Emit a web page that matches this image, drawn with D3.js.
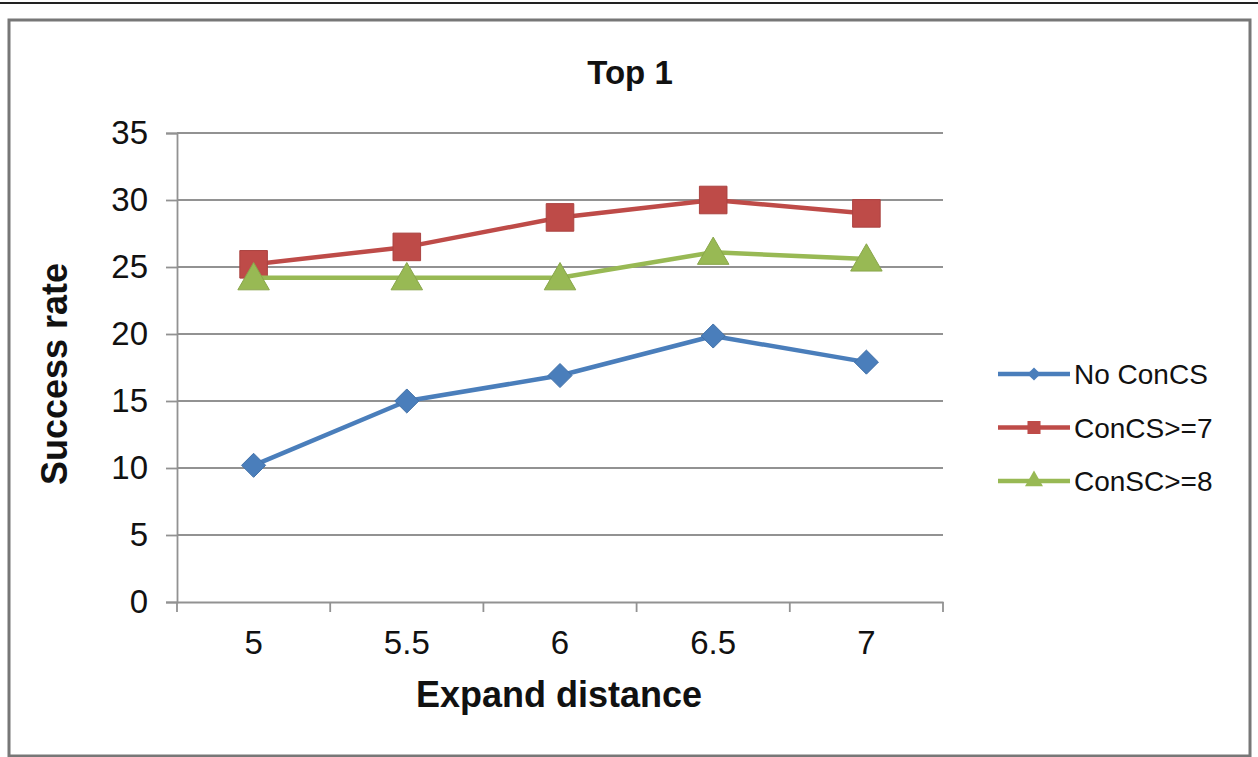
<!DOCTYPE html>
<head>
  <script src="https://d3js.org/d3.v7.min.js"></script>
  <style>
    body { margin: 0; background: #fff; }
    text { font-family: Arial, "Liberation Sans", sans-serif; fill: #111; }
  </style>
</head>
<body>
  <svg width="1258" height="757"></svg>
  <script>
    const categories = ["5", "5.5", "6", "6.5", "7"];
    const noConCS = [10.2, 15, 16.9, 19.85, 17.9];
    const conCS7 = [25.2, 26.5, 28.7, 30, 29];
    const conSC8 = [24.2, 24.2, 24.2, 26.1, 25.6];
    const yTicks = [0, 5, 10, 15, 20, 25, 30, 35];

    const series = [
      { name: "No ConCS", values: noConCS, color: "#4A7EBB", shape: "diamond" },
      { name: "ConCS>=7", values: conCS7, color: "#BE4B48", shape: "square" },
      { name: "ConSC>=8", values: conSC8, color: "#98B954", shape: "triangle" }
    ];

    const svg = d3.select("svg");

    // page line and frame
    svg.append("line").attr("x1", 0).attr("x2", 1258).attr("y1", 3).attr("y2", 3)
      .attr("stroke", "#222").attr("stroke-width", 2);
    svg.append("rect").attr("x", 9).attr("y", 20).attr("width", 1241).attr("height", 736)
      .attr("fill", "none").attr("stroke", "#777").attr("stroke-width", 3);

    const plotLeft = 177, plotRight = 943, plotTop = 133, plotBottom = 602;

    const x = d3.scaleBand().domain(categories).range([plotLeft, plotRight]);
    const y = d3.scaleLinear().domain([0, 35]).range([plotBottom, plotTop]);

    // gridlines
    svg.append("g").selectAll("line").data(yTicks.filter(d => d > 0)).enter().append("line")
      .attr("x1", plotLeft).attr("x2", plotRight)
      .attr("y1", d => y(d)).attr("y2", d => y(d))
      .attr("stroke", "#929292").attr("stroke-width", 1.8);

    // y axis
    const yAxis = svg.append("g").attr("transform", `translate(${plotLeft},0)`)
      .call(d3.axisLeft(y).tickValues(yTicks).tickSize(11).tickPadding(18));
    yAxis.select(".domain").attr("stroke", "#929292").attr("stroke-width", 1.8);
    yAxis.selectAll(".tick line").attr("stroke", "#929292").attr("stroke-width", 1.8);
    yAxis.selectAll(".tick text").style("font-size", "33px").attr("fill", "#111");

    // x axis
    const xAxis = svg.append("g").attr("transform", `translate(0,${plotBottom})`)
      .call(d3.axisBottom(x).tickSize(0).tickPadding(29));
    xAxis.select(".domain").attr("stroke", "#929292").attr("stroke-width", 1.8);
    xAxis.selectAll(".tick text").style("font-size", "33px").attr("fill", "#111");
    svg.append("g").selectAll("line")
      .data(categories.map(c => x(c)).concat([plotRight])).enter().append("line")
      .attr("x1", d => d).attr("x2", d => d)
      .attr("y1", plotBottom).attr("y2", plotBottom + 10)
      .attr("stroke", "#929292").attr("stroke-width", 1.8);

    const cx = c => x(c) + x.bandwidth() / 2;

    const markerPath = {
      diamond: d3.symbol().type(d3.symbolDiamond2).size(370),
      square: d3.symbol().type(d3.symbolSquare).size(760),
      triangle: d3.symbol().type(d3.symbolTriangle).size(430)
    };

    const line = d3.line().x((d, i) => cx(categories[i])).y(d => y(d));

    for (const s of series) {
      svg.append("path").datum(s.values)
        .attr("d", line).attr("fill", "none")
        .attr("stroke", s.color).attr("stroke-width", 4.5)
        .attr("stroke-linejoin", "round");
      svg.append("g").selectAll("path").data(s.values).enter().append("path")
        .attr("d", markerPath[s.shape])
        .attr("transform", (d, i) => `translate(${cx(categories[i])},${y(d) + (s.shape === "triangle" ? 3 : 0)})`)
        .attr("fill", s.color)
        .attr("stroke", d3.color(s.color).darker(0.3)).attr("stroke-width", 1);
    }

    // titles
    svg.append("text").attr("x", 630).attr("y", 84).attr("text-anchor", "middle")
      .style("font-size", "33px").style("font-weight", "bold").text("Top 1");
    svg.append("text").attr("x", 559).attr("y", 707).attr("text-anchor", "middle")
      .style("font-size", "36px").style("font-weight", "bold").text("Expand distance");
    svg.append("text").attr("transform", "translate(67,374) rotate(-90)").attr("text-anchor", "middle")
      .style("font-size", "36px").style("font-weight", "bold").text("Success rate");

    // legend
    const legendSymbol = {
      diamond: d3.symbol().type(d3.symbolDiamond2).size(110),
      square: d3.symbol().type(d3.symbolSquare).size(170),
      triangle: d3.symbol().type(d3.symbolTriangle).size(140)
    };
    const legend = svg.append("g").selectAll("g").data(series).enter().append("g")
      .attr("transform", (d, i) => `translate(998,${374 + i * 53.5})`);
    legend.append("line").attr("x1", 0).attr("x2", 72).attr("y1", 0).attr("y2", 0)
      .attr("stroke", d => d.color).attr("stroke-width", 4.5);
    legend.append("path").attr("d", d => legendSymbol[d.shape]())
      .attr("transform", "translate(36,0)").attr("fill", d => d.color);
    legend.append("text").attr("x", 76).attr("y", 10)
      .style("font-size", "28px").text(d => d.name);
  </script>
</body>
